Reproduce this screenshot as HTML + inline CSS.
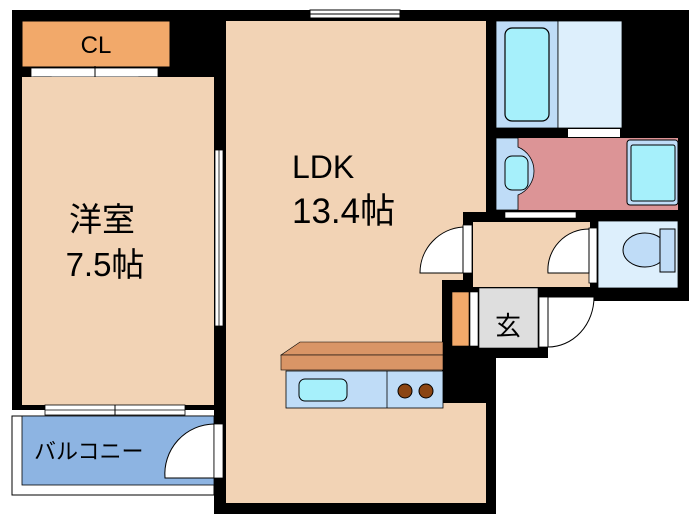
<!DOCTYPE html>
<html><head><meta charset="utf-8"><style>body{margin:0;background:#fff}svg{display:block}</style></head><body>
<svg width="700" height="525" viewBox="0 0 700 525" xmlns="http://www.w3.org/2000/svg" font-family="'Liberation Sans','Noto Sans CJK JP',sans-serif">
<rect width="700" height="525" fill="#fff"/>
<rect x="12" y="10" width="214" height="400" fill="#000"/>
<rect x="214" y="10" width="282" height="504" fill="#000"/>
<rect x="486" y="10" width="203" height="291" fill="#000"/>
<rect x="441" y="280" width="107" height="78" fill="#000"/>
<rect x="310" y="10" width="90" height="8" fill="#fff" stroke="#000" stroke-width="1"/>
<line x1="310" y1="14" x2="400" y2="14" stroke="#000" stroke-width="1"/>
<rect x="22" y="21" width="148" height="46" fill="#f2a96a" stroke="#000" stroke-width="1"/>
<text x="96" y="53" font-size="24" text-anchor="middle">CL</text>
<rect x="31" y="68" width="127" height="9" fill="#fff" stroke="#000" stroke-width="0.8"/>
<line x1="95" y1="66" x2="95" y2="79" stroke="#000"/>
<polygon points="34,77 51,77 42,101" fill="#fff" stroke="#000"/>
<polygon points="139,77 156,77 147,101" fill="#fff" stroke="#000"/>
<rect x="22" y="77" width="192" height="328" fill="#f2d3b5"/>
<text x="102" y="231" font-size="33" text-anchor="middle">洋室</text>
<text x="105" y="276" font-size="33" text-anchor="middle">7.5帖</text>
<rect x="226" y="21" width="260" height="482" fill="#f2d3b5"/>
<rect x="463" y="212" width="33" height="78" fill="#000"/>
<rect x="442" y="355" width="53" height="48" fill="#000"/>
<rect x="486" y="280" width="10" height="234" fill="#000"/>
<rect x="442" y="280" width="54" height="78" fill="#000"/>
<text x="292" y="178" font-size="32">LDK</text>
<text x="292" y="223" font-size="35">13.4帖</text>
<rect x="215" y="150" width="8" height="176" fill="#fff" stroke="#000" stroke-width="0.8"/>
<line x1="219" y1="150" x2="219" y2="326" stroke="#000" stroke-width="0.8"/>
<rect x="12" y="416" width="202" height="79" fill="#fff" stroke="#000" stroke-width="1"/>
<rect x="22" y="416" width="192" height="69" fill="#8db4e2" stroke="#000" stroke-width="0.8"/>
<rect x="45" y="405" width="140" height="10" fill="#fff" stroke="#000" stroke-width="0.8"/>
<line x1="45" y1="410" x2="185" y2="410" stroke="#000" stroke-width="0.8"/>
<line x1="115" y1="405" x2="115" y2="415" stroke="#000"/>
<path d="M214,424 A50,50 0 0 0 165,478 L214,478 Z" fill="#fff" stroke="#000" stroke-width="1"/>
<rect x="214" y="424" width="9" height="54" fill="#fff" stroke="#000" stroke-width="0.8"/>
<text x="34" y="459" font-size="22">バルコニー</text>
<polygon points="281,355 300,342 443,342 443,355" fill="#d99566" stroke="#000" stroke-width="0.6"/>
<rect x="281" y="355" width="162" height="15" fill="#d99566" stroke="#000" stroke-width="0.6"/>
<rect x="286" y="371" width="157" height="37" fill="#bfdcf7" stroke="#000" stroke-width="0.8"/>
<line x1="387" y1="371" x2="387" y2="408" stroke="#000" stroke-width="0.8"/>
<rect x="299" y="379" width="48" height="22" rx="6" fill="#a6f0fb" stroke="#000" stroke-width="1"/>
<circle cx="405" cy="391" r="7" fill="#8b4513" stroke="#000"/>
<circle cx="426" cy="391" r="7" fill="#8b4513" stroke="#000"/>
<rect x="496" y="21" width="62" height="107" fill="#bfdcf7" stroke="#000" stroke-width="0.8"/>
<rect x="505" y="28" width="44" height="93" rx="7" fill="#a6f0fb" stroke="#000" stroke-width="1.2"/>
<rect x="558" y="21" width="64" height="107" fill="#ddeffc" stroke="#000" stroke-width="0.8"/>
<rect x="568" y="129" width="52" height="8" fill="#fff"/>
<polygon points="605,138 617,138 611,157" fill="#fff" stroke="#000"/>
<rect x="496" y="138" width="182" height="72" fill="#dc9496"/>
<path d="M496,138 H518 V147 A26,26 0 0 1 518,195 V210 H496 Z" fill="#bfdcf7" stroke="#000" stroke-width="0.8"/>
<rect x="505" y="156" width="23" height="34" rx="7" fill="#a6f0fb" stroke="#000"/>
<rect x="627" y="140" width="51" height="65" rx="3" fill="#bfdcf7" stroke="#000"/>
<rect x="631" y="145" width="44" height="56" rx="2" fill="#a6f0fb" stroke="#000"/>
<rect x="505" y="212" width="71" height="6" fill="#fff" stroke="#000" stroke-width="0.6"/>
<rect x="473" y="222" width="117" height="65" fill="#f2d3b5"/>
<rect x="463" y="225" width="9" height="48" fill="#fff" stroke="#000" stroke-width="0.8"/>
<path d="M463,227 A46,46 0 0 0 420,273 L463,273 Z" fill="#fff" stroke="#000"/>
<rect x="589" y="228" width="8" height="55" fill="#fff" stroke="#000" stroke-width="0.8"/>
<path d="M589,229 A41,41 0 0 0 548,273 L589,273 Z" fill="#fff" stroke="#000"/>
<rect x="598" y="221" width="80" height="67" fill="#ddeffc" stroke="#000" stroke-width="0.8"/>
<ellipse cx="645" cy="250" rx="22" ry="17" fill="#bfdcf7" stroke="#000"/>
<rect x="660" y="229" width="15" height="43" fill="#bfdcf7" stroke="#000"/>
<rect x="452" y="292" width="17" height="54" fill="#f2a96a" stroke="#000" stroke-width="0.6"/>
<rect x="470" y="292" width="8" height="54" fill="#fff" stroke="#000" stroke-width="0.6"/>
<rect x="479" y="288" width="59" height="60" fill="#dedede" stroke="#000" stroke-width="0.6"/>
<text x="508" y="335" font-size="26" text-anchor="middle">玄</text>
<rect x="539" y="297" width="9" height="50" fill="#fff" stroke="#000" stroke-width="0.8"/>
<path d="M548,297 L594,297 A46,50 0 0 1 548,347 Z" fill="#fff" stroke="#000"/>
</svg>
</body></html>
